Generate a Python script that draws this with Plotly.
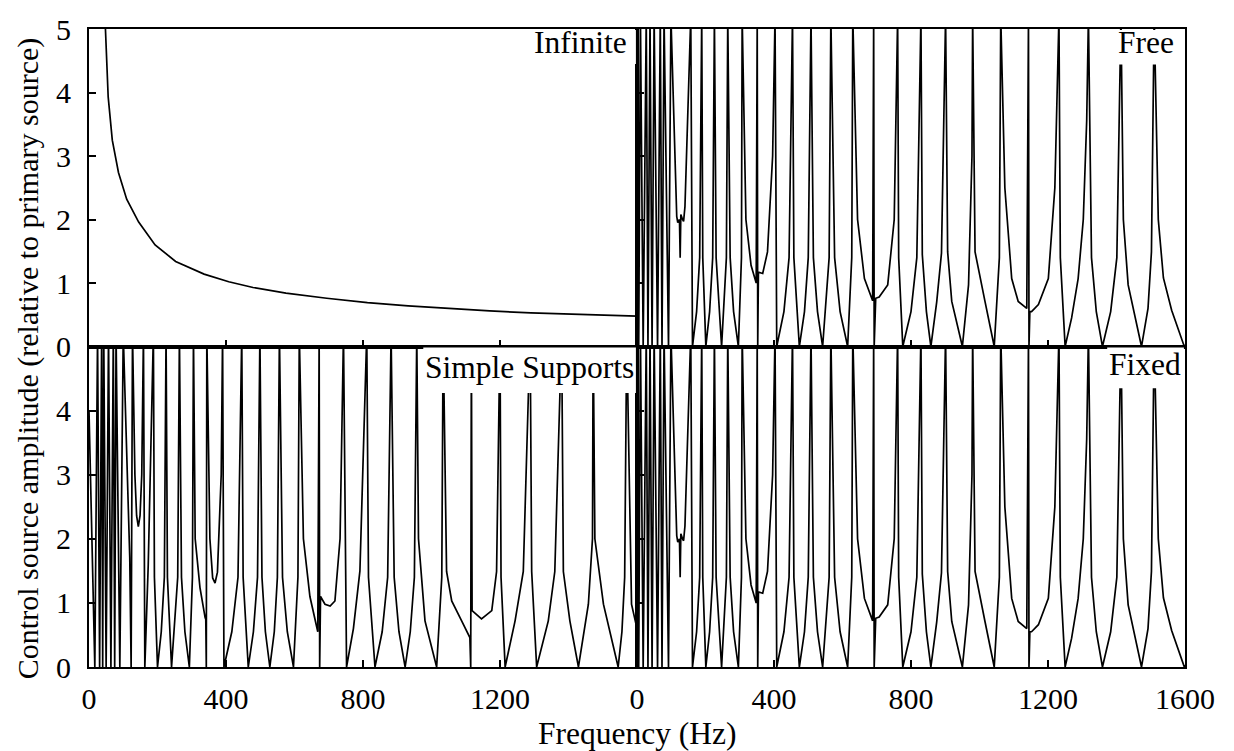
import plotly.graph_objects as go
from plotly.subplots import make_subplots

# ---------------- data (frequency Hz, amplitude) ----------------
# Infinite beam: smooth decay
freq_infinite = [46, 48, 56, 68, 86, 110, 145, 193, 253, 336, 408, 479, 575, 694, 813, 932, 1051, 1170, 1290, 1409, 1600]
amp_infinite = [5.3, 5.0, 3.93, 3.25, 2.74, 2.32, 1.96, 1.60, 1.34, 1.14, 1.02, 0.93, 0.84, 0.76, 0.69, 0.64, 0.60, 0.56, 0.53, 0.51, 0.48]

# Free ends (resonance peaks above 5 are clipped by the axis)
free_curve = [
    (0, 5.2), (5, 0), (10, 5.2), (18, 0), (27, 5.2), (32, 0), (38, 5.2), (44, 0), (50, 5.2), (60, 0),
    (68, 5.2), (73, 0), (79, 5.2), (92, 0), (99, 5.2),
    (116, 2.05), (119, 1.95), (124, 2.0), (126, 1.4), (128, 2.08), (133, 2.0), (136, 1.97), (140, 2.2), (157, 5.2),
    (162, 0), (174, 0.55), (183, 1.4), (189, 5.2), (192, 1.4), (201, 0), (212, 0.55), (221, 1.4), (226, 5.2),
    (231, 1.4), (247, 0), (261, 1.4), (265, 5.2), (272, 1.4), (282, 0.55), (296, 0), (305, 1.4), (307, 5.2),
    (318, 2.0), (333, 1.28), (348, 1.0), (351, 5.2), (352.5, 0), (354.5, 1.17), (367, 1.15), (381, 1.49), (396, 3.0), (403, 5.2),
    (408, 0), (429, 0.55), (444, 1.4), (454, 5.2), (458, 1.4), (474, 0), (489, 0.55), (500, 1.4), (508, 5.2),
    (515, 1.4), (527, 0.55), (542, 0), (561, 1.4), (566, 5.2), (577, 1.4), (593, 0.55), (615, 0), (627, 1.4), (630, 5.2),
    (644, 2.0), (664, 1.07), (688, 0.72), (691, 5.2), (692.5, 0), (697, 0.76), (707, 0.78), (732, 0.97), (751, 2.0), (761, 5.2),
    (764, 1.4), (776, 0), (800, 0.55), (817, 1.4), (829, 5.2), (833, 1.45), (845, 0.55), (858, 0), (875, 0.7), (889, 1.47), (901, 5.2),
    (907, 1.49), (919, 0.71), (950, 0), (968, 0.97), (978, 3.0), (980, 5.2), (987, 1.49), (1016, 0.71), (1043, 0), (1058, 1.4), (1062, 5.2),
    (1074, 2.5), (1094, 1.07), (1113, 0.71), (1138, 0.6), (1143, 5.2), (1144.5, 0), (1147, 0.55), (1152, 0.55), (1172, 0.66),
    (1201, 1.07), (1220, 2.5), (1232, 5.2),
    (1236, 1.4), (1250, 0), (1269, 0.45), (1288, 1.07), (1303, 2.0), (1313, 3.56), (1318, 5.2),
    (1327, 1.4), (1341, 0.55), (1359, 0), (1383, 0.55), (1401, 1.4), (1413, 5.2), (1420, 2.0), (1434, 0.97), (1473, 0),
    (1492, 0.6), (1502, 1.49), (1510, 5.2), (1522, 2.0), (1537, 1.08), (1561, 0.57), (1598, 0), (1600, 0.03),
]

# Simple supports
simple_curve = [
    (0, 4.0), (17, 0), (25, 5.2), (31, 0), (37, 5.2), (40, 0), (43, 5.2), (50, 0), (57, 5.2), (64, 0),
    (71, 5.2), (75, 0), (79, 5.2), (90, 0), (100, 5.2), (119, 1.7), (123, 0), (127, 5.2),
    (134, 3.0), (139, 2.36), (144, 2.19), (149, 2.36), (154, 3.0), (159, 5.2),
    (163, 0), (173, 1.6), (188, 5.2), (191, 1.4), (200, 0), (211, 0.55), (220, 1.4), (225, 5.2),
    (229, 1.4), (241, 0), (259, 1.4), (264, 5.2),
    (270, 1.4), (280, 0.55), (293, 0), (302, 1.4), (305, 5.2), (310, 2.0), (324, 1.24), (339, 0.77), (341, 0.74), (342.5, 0), (344, 5.2),
    (353, 2.0), (361, 1.39), (368, 1.31), (375, 1.48), (386, 3.0), (390, 5.2),
    (394, 0), (417, 0.55), (435, 1.4), (446, 5.2), (450, 1.4), (465, 0), (480, 0.55), (492, 1.4), (499, 5.2),
    (505, 1.4), (515, 0.55), (528, 0), (541, 0.55), (550, 1.4), (556, 5.2), (565, 1.4), (579, 0.55), (597, 0), (610, 1.4), (614, 5.2),
    (626, 2.0), (645, 1.1), (668, 0.55), (672, 5.2), (673.5, 0), (676, 1.1), (689, 0.98), (704, 0.95), (718, 1.03), (733, 2.0), (743, 5.2),
    (752, 0), (772, 0.6), (791, 1.5), (811, 5.2), (816, 1.4), (835, 0), (856, 0.55), (872, 1.4), (882, 5.2),
    (891, 1.4), (905, 0.55), (923, 0), (938, 0.55), (950, 1.4), (957, 5.2), (962, 2.0), (981, 0.72), (1015, 0), (1030, 1.4), (1034, 5.2),
    (1044, 1.49), (1059, 1.03), (1088, 0.72), (1112, 0.46), (1114.5, 0), (1116.5, 5.2), (1118.5, 0.88), (1146, 0.75), (1176, 0.88),
    (1190, 1.49), (1200, 5.2),
    (1203, 1.4), (1215, 0), (1244, 0.72), (1268, 1.49), (1288, 5.2), (1292.5, 1.49), (1307, 0), (1341, 0.72), (1360, 1.49), (1380, 5.2),
    (1385, 1.49), (1404, 0.72), (1429, 0), (1458, 0.98), (1470, 2.0), (1472, 5.2), (1477, 2.0), (1502, 0.98), (1545, 0),
    (1556, 0.55), (1564, 1.4), (1570, 5.2), (1584, 0.98), (1600, 0.6),
]

# Fixed ends: reads identically to the free-end panel in the reference
fixed_curve = list(free_curve)

panel_names = ["Infinite", "Free", "Simple Supports", "Fixed"]
x_ticks = [0, 400, 800, 1200, 1600]
y_ticks = [0, 1, 2, 3, 4, 5]

# ---------------- figure ----------------
FONT = "Liberation Serif"
fig = make_subplots(rows=2, cols=2, horizontal_spacing=0, vertical_spacing=0)

series = [(1, 1, freq_infinite, amp_infinite),
          (1, 2, [p[0] for p in free_curve], [p[1] for p in free_curve]),
          (2, 1, [p[0] for p in simple_curve], [p[1] for p in simple_curve]),
          (2, 2, [p[0] for p in fixed_curve], [p[1] for p in fixed_curve])]
for r, c, fx, ay in series:
    fig.add_trace(go.Scatter(x=fx, y=ay, mode="lines",
                             line=dict(color="black", width=1.7, simplify=False),
                             showlegend=False, hoverinfo="skip"), row=r, col=c)

axis_common = dict(showline=True, mirror=True, linecolor="black", linewidth=2,
                   ticks="inside", ticklen=7, tickwidth=1.5, tickcolor="black",
                   showgrid=False, zeroline=False,
                   tickfont=dict(family=FONT, size=30, color="black"))

for r in (1, 2):
    for c in (1, 2):
        xa = dict(axis_common, range=[0, 1600], tickvals=x_ticks)
        ya = dict(axis_common, range=[0, 5], tickvals=y_ticks)
        if r == 1:
            xa["showticklabels"] = False
        else:
            xa["ticklabelstandoff"] = 4
            xa["ticktext"] = ["0", "400", "800", "1200", "" if c == 1 else "1600"]
        if c == 2:
            ya["showticklabels"] = False
        else:
            ya["ticklabelstandoff"] = 10
            ya["ticktext"] = ["0", "1", "2", "3", "4", "5" if r == 1 else ""]
        fig.update_xaxes(xa, row=r, col=c)
        fig.update_yaxes(ya, row=r, col=c)

split = 0.5023
fig.update_layout(yaxis=dict(domain=[split, 1]), yaxis2=dict(domain=[split, 1]),
                  yaxis3=dict(domain=[0, split]), yaxis4=dict(domain=[0, split]))

# panel labels: a white patch hides the curves behind each label
# (axis refs, box x0, box y0, text right edge, text centre height) in panel-domain units
label_layout = [("x", "y", 0.80, 0.89, 0.9836, 0.956),
                ("x2", "y2", 0.875, 0.888, 0.9818, 0.956),
                ("x3", "y3", 0.61, 0.855, 0.9964, 0.936),
                ("x4", "y4", 0.858, 0.870, 0.9945, 0.944)]
for (xa_, ya_, bx0, by0, tx, ty), name in zip(label_layout, panel_names):
    fig.add_shape(type="rect", xref=f"{xa_} domain", yref=f"{ya_} domain",
                  x0=bx0, x1=0.998, y0=by0, y1=0.997, layer="above",
                  fillcolor="white", line=dict(width=0))
    fig.add_annotation(text=name, xref=f"{xa_} domain", yref=f"{ya_} domain", x=tx, y=ty,
                       xanchor="right", yanchor="middle", showarrow=False, borderpad=0,
                       font=dict(family=FONT, size=31.5, color="black"))

fig.add_annotation(text="Frequency (Hz)", xref="paper", yref="paper", x=0.5, y=-0.105,
                   xanchor="center", yanchor="middle", showarrow=False,
                   font=dict(family=FONT, size=31.5, color="black"))
fig.add_annotation(text="Control source amplitude (relative to primary source)",
                   xref="paper", yref="paper", x=-0.0557, y=0.484, textangle=-90,
                   xanchor="center", yanchor="middle", showarrow=False,
                   font=dict(family=FONT, size=30, color="black"))

fig.update_layout(width=1234, height=751, plot_bgcolor="white", paper_bgcolor="white",
                  margin=dict(l=89, r=49, t=22, b=84), showlegend=False,
                  font=dict(family=FONT, size=30, color="black"))

fig.write_html("out.html")
